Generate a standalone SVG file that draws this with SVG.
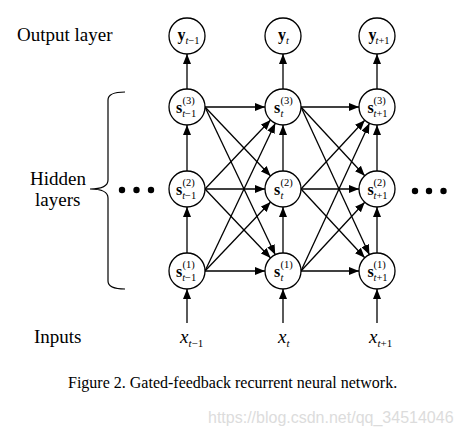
<svg xmlns="http://www.w3.org/2000/svg" width="461" height="437" viewBox="0 0 461 437">
<style>
text{font-family:"Liberation Serif","Times New Roman",serif;fill:#000}
.lbl{font-size:19px}
.nb{font-size:16px;font-weight:bold}
.sc{font-size:10.5px}
.it{font-style:italic}
.node circle{fill:#fff;stroke:#000;stroke-width:1.3}
#connectors line{stroke:#000;stroke-width:1.3;marker-end:url(#ah)}
.dot{fill:#000}
</style>
<defs>
<marker id="ah" markerWidth="10" markerHeight="8" refX="10" refY="4" orient="auto" markerUnits="userSpaceOnUse"><path d="M0,0 L10,4 L0,8 z" fill="#000"/></marker>
</defs>
<rect width="461" height="437" fill="#fff"/>
<g id="connectors">
<!-- inputs -->
<line x1="187" y1="323" x2="187" y2="289"/>
<line x1="283" y1="323" x2="283" y2="289"/>
<line x1="377" y1="323" x2="377" y2="289"/>
<!-- verticals -->
<line x1="187" y1="253" x2="187" y2="207"/>
<line x1="187" y1="171" x2="187" y2="125"/>
<line x1="187" y1="89" x2="187" y2="54"/>
<line x1="283" y1="253" x2="283" y2="207"/>
<line x1="283" y1="171" x2="283" y2="125"/>
<line x1="283" y1="89" x2="283" y2="54"/>
<line x1="377" y1="253" x2="377" y2="207"/>
<line x1="377" y1="171" x2="377" y2="125"/>
<line x1="377" y1="89" x2="377" y2="54"/>
<!-- col1 to col2 -->
<line x1="205" y1="107" x2="265" y2="107"/>
<line x1="205" y1="107" x2="270.6" y2="175.96"/>
<line x1="205" y1="107" x2="275.27" y2="254.75"/>
<line x1="205" y1="189" x2="270.6" y2="120.04"/>
<line x1="205" y1="189" x2="265" y2="189"/>
<line x1="205" y1="189" x2="270.6" y2="257.96"/>
<line x1="205" y1="271" x2="275.27" y2="123.25"/>
<line x1="205" y1="271" x2="270.6" y2="202.04"/>
<line x1="205" y1="271" x2="265" y2="271"/>
<!-- col2 to col3 -->
<line x1="301" y1="107" x2="359" y2="107"/>
<line x1="301" y1="107" x2="364.76" y2="175.8"/>
<line x1="301" y1="107" x2="369.43" y2="254.67"/>
<line x1="301" y1="189" x2="364.76" y2="120.2"/>
<line x1="301" y1="189" x2="359" y2="189"/>
<line x1="301" y1="189" x2="364.76" y2="257.8"/>
<line x1="301" y1="271" x2="369.43" y2="123.33"/>
<line x1="301" y1="271" x2="364.76" y2="202.2"/>
<line x1="301" y1="271" x2="359" y2="271"/>
</g>
<!-- output nodes -->
<g id="y_tm1" class="node"><circle cx="187" cy="36" r="18"/><text class="nb" x="177.5" y="40">y</text><text class="sc" x="185.5" y="44"><tspan class="it">t</tspan>−1</text></g>
<g id="y_t" class="node"><circle cx="283" cy="36" r="18"/><text class="nb" x="278" y="40">y</text><text class="sc it" x="286" y="44">t</text></g>
<g id="y_tp1" class="node"><circle cx="377" cy="36" r="18"/><text class="nb" x="368.5" y="40">y</text><text class="sc" x="375.5" y="44"><tspan class="it">t</tspan>+1</text></g>
<!-- hidden nodes col t-1 -->
<g id="s3_tm1" class="node"><circle cx="187" cy="107" r="18"/><text class="nb" x="176" y="112.5">s</text><text class="sc" x="182.5" y="104">(3)</text><text class="sc" x="182.2" y="117"><tspan class="it">t</tspan>−1</text></g>
<g id="s2_tm1" class="node"><circle cx="187" cy="189" r="18"/><text class="nb" x="176" y="194.5">s</text><text class="sc" x="182.5" y="186">(2)</text><text class="sc" x="182.2" y="199"><tspan class="it">t</tspan>−1</text></g>
<g id="s1_tm1" class="node"><circle cx="187" cy="271" r="18"/><text class="nb" x="176" y="276.5">s</text><text class="sc" x="182.5" y="268">(1)</text><text class="sc" x="182.2" y="281"><tspan class="it">t</tspan>−1</text></g>
<!-- col t -->
<g id="s3_t" class="node"><circle cx="283" cy="107" r="18"/><text class="nb" x="274" y="112.5">s</text><text class="sc" x="280.5" y="104">(3)</text><text class="sc it" x="280.5" y="117">t</text></g>
<g id="s2_t" class="node"><circle cx="283" cy="189" r="18"/><text class="nb" x="274" y="194.5">s</text><text class="sc" x="280.5" y="186">(2)</text><text class="sc it" x="280.5" y="199">t</text></g>
<g id="s1_t" class="node"><circle cx="283" cy="271" r="18"/><text class="nb" x="274" y="276.5">s</text><text class="sc" x="280.5" y="268">(1)</text><text class="sc it" x="280.5" y="281">t</text></g>
<!-- col t+1 -->
<g id="s3_tp1" class="node"><circle cx="377" cy="107" r="18"/><text class="nb" x="367.5" y="112.5">s</text><text class="sc" x="373.5" y="104">(3)</text><text class="sc" x="373.5" y="117"><tspan class="it">t</tspan>+1</text></g>
<g id="s2_tp1" class="node"><circle cx="377" cy="189" r="18"/><text class="nb" x="367.5" y="194.5">s</text><text class="sc" x="373.5" y="186">(2)</text><text class="sc" x="373.5" y="199"><tspan class="it">t</tspan>+1</text></g>
<g id="s1_tp1" class="node"><circle cx="377" cy="271" r="18"/><text class="nb" x="367.5" y="276.5">s</text><text class="sc" x="373.5" y="268">(1)</text><text class="sc" x="373.5" y="281"><tspan class="it">t</tspan>+1</text></g>
<!-- inputs -->
<g id="x_tm1"><text class="lbl it" x="180" y="343">x</text><text class="sc" style="font-size:11px" x="188.5" y="347"><tspan class="it">t</tspan>−1</text></g>
<g id="x_t"><text class="lbl it" x="278" y="343">x</text><text class="sc it" style="font-size:11px" x="286.5" y="347">t</text></g>
<g id="x_tp1"><text class="lbl it" x="369" y="343">x</text><text class="sc" style="font-size:11px" x="377.5" y="347"><tspan class="it">t</tspan>+1</text></g>
<!-- ellipses -->
<g id="dots_left"><circle class="dot" cx="122" cy="190" r="3.2"/><circle class="dot" cx="136.5" cy="190" r="3.2"/><circle class="dot" cx="151" cy="190" r="3.2"/></g>
<g id="dots_right"><circle class="dot" cx="415" cy="191" r="3.2"/><circle class="dot" cx="429" cy="191" r="3.2"/><circle class="dot" cx="443.5" cy="191" r="3.2"/></g>
<!-- brace -->
<path id="brace" d="M125,92 Q108,92 108,100 L108,180 Q108,189 90,189 Q108,189 108,198 L108,281 Q108,289 125,289" fill="none" stroke="#000" stroke-width="1.2"/>
<!-- labels -->
<text class="lbl" x="17" y="41">Output layer</text>
<text class="lbl" x="30" y="185">Hidden</text>
<text class="lbl" x="35" y="206">layers</text>
<text class="lbl" x="34" y="343">Inputs</text>
<text x="68" y="388" style="font-size:16px">Figure 2. Gated-feedback recurrent neural network.</text>
<text x="208" y="423" style="font-family:'Liberation Sans',Arial,sans-serif;font-size:16px;fill:#dcdcdc">https://blog.csdn.net/qq_34514046</text>
</svg>
